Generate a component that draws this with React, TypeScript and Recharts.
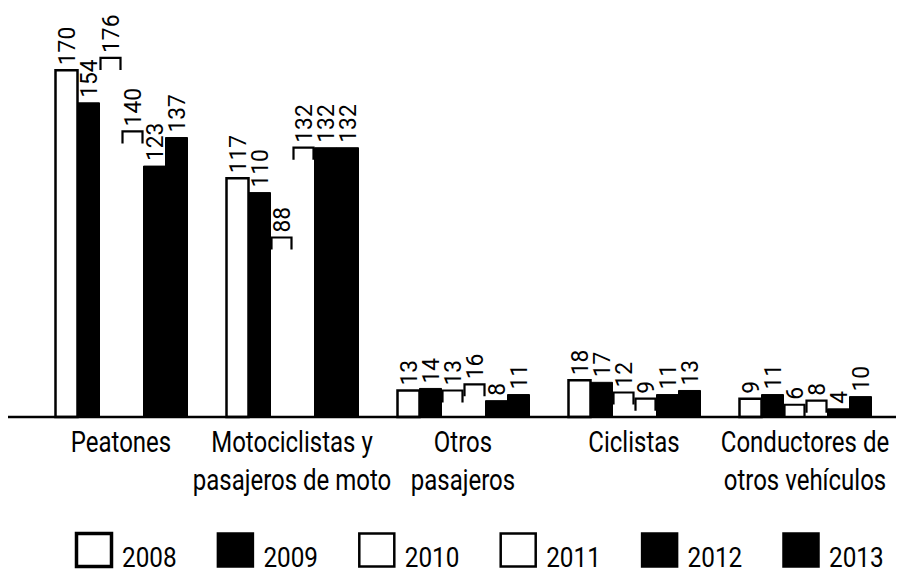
import React from "react";
import { BarChart, Bar, XAxis, YAxis, LabelList } from "recharts";

const catLine1 = ["Peatones", "Motociclistas y", "Otros", "Ciclistas", "Conductores de"];
const catLine2 = ["", "pasajeros de moto", "pasajeros", "", "otros vehículos"];
const years = ["2008", "2009", "2010", "2011", "2012", "2013"];

const v2008 = [170, 117, 13, 18, 9];
const v2009 = [154, 110, 14, 17, 11];
const v2010 = [176, 88, 13, 12, 6];
const v2011 = [140, 132, 16, 9, 8];
const v2012 = [123, 132, 8, 11, 4];
const v2013 = [137, 132, 11, 13, 10];

const seriesValues = [v2008, v2009, v2010, v2011, v2012, v2013];
const seriesStyle = ["outline", "solid", "open", "open", "solid", "solid"];

const data = catLine1.map((c, i) => {
  const row: Record<string, any> = { name: c };
  years.forEach((yr, s) => {
    row["y" + yr] = seriesValues[s][i];
  });
  return row;
});

const FONT = "Roboto, 'Liberation Sans', sans-serif";

const CatTick = (props: any) => {
  const { x, y, index } = props;
  return (
    <g transform={`translate(${x} ${y}) scale(0.8 1)`}>
      <text x={0} y={27} textAnchor="middle" fontSize={30} fontFamily={FONT} fill="#000">
        {catLine1[index]}
      </text>
      {catLine2[index] ? (
        <text x={0} y={65} textAnchor="middle" fontSize={30} fontFamily={FONT} fill="#000">
          {catLine2[index]}
        </text>
      ) : null}
    </g>
  );
};

const OpenTopBar = (props: any) => {
  const { x, y, width, height } = props;
  if (height == null || width == null) return null;
  const s = Math.min(12, height);
  return (
    <path
      d={`M${x + 1},${y + s} L${x + 1},${y} L${x + width - 1},${y} L${x + width - 1},${y + s}`}
      stroke="#000"
      strokeWidth={2.2}
      fill="none"
    />
  );
};

const ValueLabel = (props: any) => {
  const { x, y, width, value } = props;
  const cx = x + width / 2;
  const ty = y - 5;
  return (
    <g transform={`translate(${cx} ${ty}) rotate(-90) scale(0.95 1)`}>
      <text
        x={0}
        y={0}
        textAnchor="start"
        dominantBaseline="central"
        fontSize={24}
        fontFamily={FONT}
        fill="#000"
      >
        {value}
      </text>
    </g>
  );
};

const W = 896;
const H = 566;
const AXIS_H = 120;

export default function App() {
  return (
    <div style={{ position: "relative", width: W, height: H, background: "#fff" }}>
      <BarChart
        width={W}
        height={H}
        data={data}
        margin={{ top: 1, right: 0, left: 0, bottom: 157 - AXIS_H }}
        barGap={0}
        barSize={22}
      >
        <XAxis
          dataKey="name"
          tickLine={false}
          axisLine={{ stroke: "#000", strokeWidth: 2.5 }}
          tick={<CatTick />}
          interval={0}
          height={AXIS_H}
          padding={{ left: 27.5, right: 13.5 }}
        />
        <YAxis hide domain={[0, 200]} />
        {years.map((yr, s) => {
          const st = seriesStyle[s];
          if (st === "open") {
            return (
              <Bar key={yr} dataKey={"y" + yr} isAnimationActive={false} shape={<OpenTopBar />}>
                <LabelList dataKey={"y" + yr} content={<ValueLabel />} />
              </Bar>
            );
          }
          return (
            <Bar
              key={yr}
              dataKey={"y" + yr}
              isAnimationActive={false}
              fill={st === "solid" ? "#000" : "#fff"}
              stroke="#000"
              strokeWidth={st === "solid" ? 1 : 2.5}
            >
              <LabelList dataKey={"y" + yr} content={<ValueLabel />} />
            </Bar>
          );
        })}
      </BarChart>
      <svg width={W} height={H} style={{ position: "absolute", left: 0, top: 0, pointerEvents: "none" }}>
        {years.map((yr, s) => {
          const lx = 67 + s * 141.4;
          const st = seriesStyle[s];
          const solid = st === "solid";
          return (
            <g key={yr}>
              <rect
                x={lx + 1.5}
                y={525.5}
                width={35}
                height={33}
                fill={solid ? "#000" : "#fff"}
                stroke="#000"
                strokeWidth={st === "outline" ? 3.5 : 2.5}
              />
              <g transform={`translate(${lx + 47} 559) scale(0.9 1)`}>
                <text x={0} y={0} fontSize={27} fontFamily={FONT} fill="#000">
                  {yr}
                </text>
              </g>
            </g>
          );
        })}
      </svg>
    </div>
  );
}
